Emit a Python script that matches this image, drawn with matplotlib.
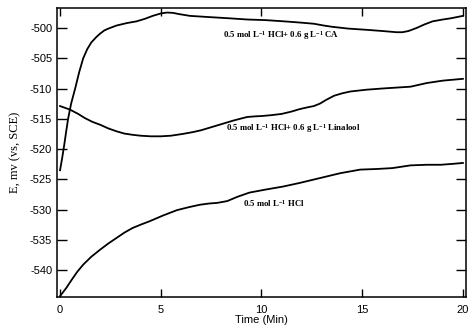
import numpy as np
import matplotlib
matplotlib.use("Agg")
import matplotlib.pyplot as plt

plt.rcParams['font.family'] = ['Liberation Sans', 'DejaVu Sans']
plt.rcParams['axes.unicode_minus'] = False
plt.rcParams['mathtext.fontset'] = 'custom'
plt.rcParams['mathtext.rm'] = 'Liberation Serif:bold'
plt.rcParams['mathtext.bf'] = 'Liberation Serif:bold'
plt.rcParams['mathtext.it'] = 'Liberation Serif:bold'

# open circuit potential vs time
t_ca = [0, 0.1, 0.2, 0.3, 0.4, 0.55, 0.75, 0.95, 1.15, 1.35, 1.55, 1.8, 2.0, 2.2,
        2.4, 2.8, 3.3, 3.8, 4.2, 4.6, 5.0, 5.3, 5.6, 5.9, 6.45, 7.4, 8.4, 9.3,
        10.2, 11.1, 11.9, 12.6, 13.1, 13.5, 14.3, 15.2, 16.0, 16.7, 17.0, 17.3,
        17.7, 18.1, 18.5, 19.0, 19.4, 20.0]
e_ca = [-523.5, -521.6, -519.5, -517.2, -515.0, -512.5, -510.0, -507.3, -505.0,
        -503.5, -502.4, -501.5, -500.9, -500.4, -500.1, -499.6, -499.2, -498.9,
        -498.5, -498.0, -497.6, -497.45, -497.5, -497.7, -498.0, -498.2, -498.4,
        -498.6, -498.7, -498.9, -499.1, -499.3, -499.6, -499.8, -500.1, -500.3,
        -500.5, -500.7, -500.7, -500.5, -500.0, -499.4, -498.9, -498.6, -498.4,
        -498.0]

t_lin = [0, 0.5, 0.9, 1.24, 1.6, 2.0, 2.4, 2.83, 3.2, 3.6, 4.0, 4.5, 5.0, 5.5,
         6.1, 6.6, 7.0, 7.4, 7.8, 8.2, 8.6, 9.0, 9.3, 9.7, 10.0, 10.5, 11.0, 11.5,
         11.9, 12.3, 12.6, 12.9, 13.2, 13.6, 14.0, 14.4, 15.2, 16.0, 17.4, 18.2,
         19.0, 20.0]
e_lin = [-512.9, -513.5, -514.2, -514.9, -515.5, -516.0, -516.6, -517.1, -517.45,
         -517.65, -517.8, -517.9, -517.9, -517.8, -517.5, -517.2, -516.9, -516.5,
         -516.1, -515.7, -515.3, -514.95, -514.7, -514.6, -514.55, -514.4, -514.2,
         -513.8, -513.4, -513.1, -512.9, -512.5, -511.9, -511.2, -510.8, -510.5,
         -510.2, -510.0, -509.7, -509.1, -508.7, -508.4]

t_hcl = [0, 0.3, 0.58, 0.85, 1.15, 1.55, 2.0, 2.4, 2.8, 3.2, 3.6, 4.0, 4.47, 5.1,
         5.8, 6.4, 6.95, 7.4, 7.8, 8.3, 8.8, 9.4, 10.2, 11.07, 11.9, 12.4, 12.9,
         13.4, 13.9, 14.4, 14.9, 15.7, 16.5, 17.0, 17.4, 18.2, 18.9, 19.5, 20.0]
e_hcl = [-544.3, -543.0, -541.6, -540.3, -539.1, -537.8, -536.6, -535.6, -534.7,
         -533.8, -533.05, -532.5, -531.9, -531.0, -530.1, -529.6, -529.2, -529.0,
         -528.9, -528.6, -527.9, -527.2, -526.7, -526.2, -525.6, -525.2, -524.8,
         -524.4, -524.0, -523.7, -523.4, -523.3, -523.15, -522.9, -522.7, -522.6,
         -522.6, -522.45, -522.3]

labels = [r"0.5 mol L$^{-1}$ HCl+ 0.6 g L$^{-1}$ CA",
          r"0.5 mol L$^{-1}$ HCl+ 0.6 g L$^{-1}$ Linalool",
          r"0.5 mol L$^{-1}$ HCl"]

fig = plt.figure(figsize=(4.74, 3.35), dpi=100)
ax = fig.add_axes([0.1203, 0.1134, 0.8627, 0.8627])

for t, e in [(t_ca, e_ca), (t_lin, e_lin), (t_hcl, e_hcl)]:
    ax.plot(t, e, color='black', lw=1.3, solid_joinstyle='round')

txt = dict(fontsize=6.3, fontweight='bold', family='Liberation Serif', va='center')
ax.text(8.1, -501.2, labels[0], **txt)
ax.text(8.25, -516.6, labels[1], **txt)
ax.text(9.1, -529.0, labels[2], **txt)

ax.set_xlim(-0.15, 20.15)
ax.set_ylim(-544.45, -496.7)
ax.set_xticks([0, 5, 10, 15, 20])
ax.set_yticks(np.arange(-540, -499, 5))
ax.tick_params(direction='in', top=True, right=True, labelsize=8,
               width=1.0, length=6, pad=5.5)
ax.tick_params(axis='y', length=7, pad=3.5)
for s in ax.spines.values():
    s.set_linewidth(1.1)

ax.set_xlabel("Time (Min)", fontsize=8, labelpad=0)
ax.set_ylabel("E, mv (vs, SCE)", fontsize=9, family='Liberation Serif', labelpad=6)

fig.savefig("out.png", dpi=100)
